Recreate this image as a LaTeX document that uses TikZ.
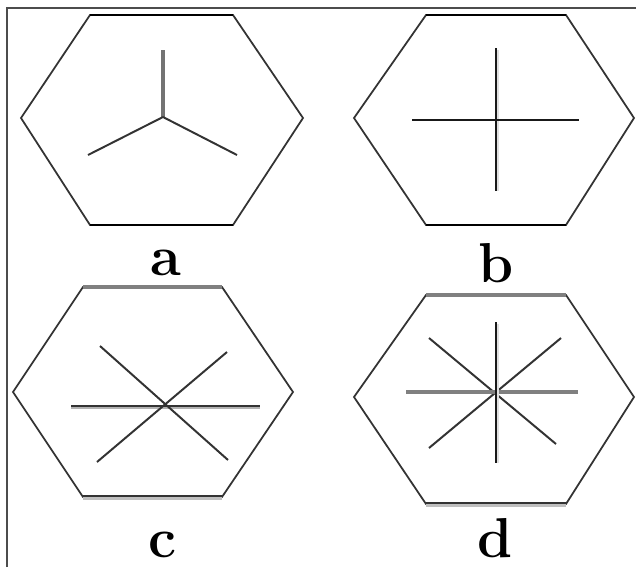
\documentclass[tikz,border=0pt]{standalone}
\usepackage{tikz}

\begin{document}
\begin{tikzpicture}[
  x=0.025cm,y=-0.025cm,
  hex/.style={draw=black!80,line width=1.25pt,line join=miter},
  rim/.style={draw=black,line width=1.6pt},
  grayrim/.style={draw=black!50,line width=2.9pt},
  spoke/.style={draw=black!80,line width=1.4pt},
  bar/.style={draw=black!90,line width=1.6pt},
  tag/.style={font=\fontsize{40}{40}\selectfont\bfseries,inner sep=0pt,anchor=base},
  every path/.style={line cap=butt}
]
  \useasboundingbox (0,0) rectangle (636,567);
  % frame
  \draw[black!70,line width=0.9pt] (7,567) -- (7,8) -- (636,8);

  % a: three spokes
  \draw[hex] (21,118) -- (90,15) -- (233,15) -- (303,118) -- (233,225) -- (90,225) -- cycle;
  \draw[rim] (90,15) -- (233,15);
  \draw[rim] (90,225) -- (233,225);
  \draw[black!55,line width=2.2pt] (163,50) -- (163,117);
  \draw[spoke] (163,117) -- (88,155);
  \draw[spoke] (163,117) -- (237,155);
  \node[tag] (lab-a) at (166,275) {a};

  % b: cross
  \draw[hex] (354,118) -- (426,15) -- (566,15) -- (634,118) -- (566,225) -- (426,225) -- cycle;
  \draw[rim] (426,15) -- (566,15);
  \draw[rim] (426,225) -- (566,225);
  \draw[black!12,line width=1.3pt] (498,50) -- (498,191);
  \draw[bar] (496,48) -- (496,191);
  \draw[bar] (412,120) -- (579,120);
  \node[tag] (lab-b) at (496,282) {b};

  % c: six spokes
  \draw[hex] (13,392) -- (83,287) -- (222,287) -- (293,392) -- (222,497) -- (83,497) -- cycle;
  \draw[grayrim] (83,287) -- (222,287);
  \draw[black!25,line width=2.9pt] (83,498) -- (222,498);
  \draw[black!80,line width=1.6pt] (83,496) -- (222,496);
  \draw[black!30,line width=2.6pt] (71,407) -- (260,407);
  \draw[black!80,line width=1.6pt] (71,406) -- (260,406);
  \draw[spoke] (100,346) -- (228,460);
  \draw[spoke] (97,462) -- (227,352);
  \node[tag] (lab-c) at (163,557) {c};

  % d: eight spokes
  \draw[hex] (354,397) -- (426,295) -- (566,295) -- (634,397) -- (566,504) -- (426,504) -- cycle;
  \draw[grayrim] (426,295) -- (566,295);
  \draw[black!25,line width=2.9pt] (426,505) -- (566,505);
  \draw[black!80,line width=1.6pt] (426,503) -- (566,503);
  \draw[spoke] (429,338) -- (556,444);
  \draw[spoke] (429,448) -- (561,338);
  \draw[grayrim] (406,392) -- (578,392);
  \draw[black!12,line width=1.3pt] (498,324) -- (498,463);
  \draw[bar] (496,322) -- (496,463);
  \node[tag] (lab-d) at (495,557) {d};
\end{tikzpicture}
\end{document}
